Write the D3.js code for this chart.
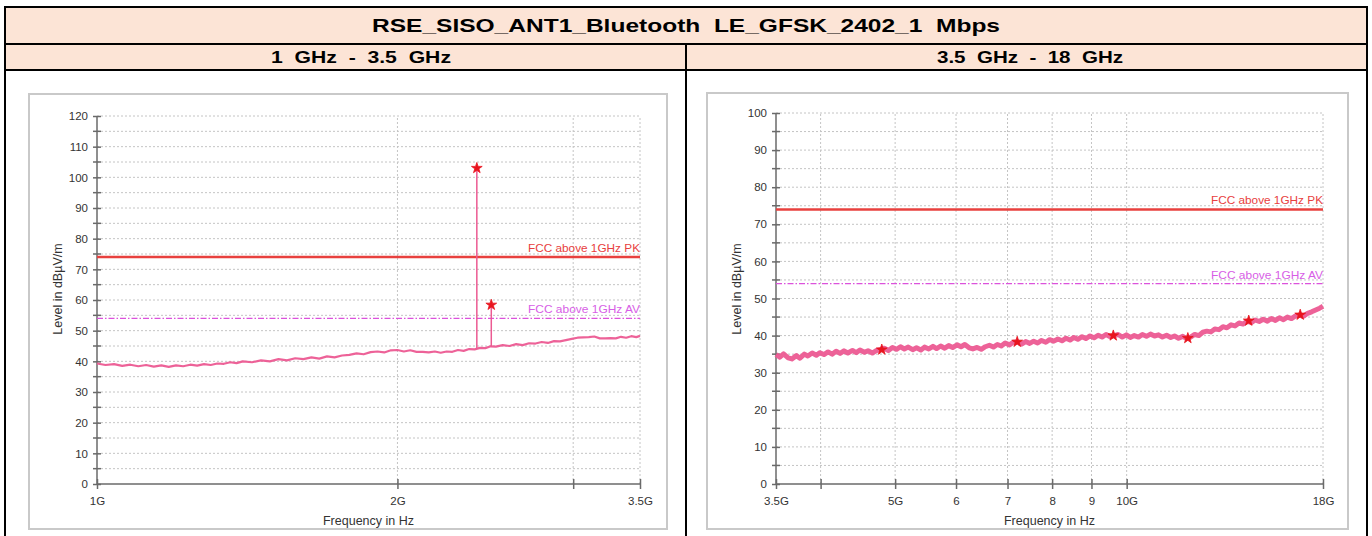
<!DOCTYPE html>
<html><head><meta charset="utf-8">
<script src="https://cdn.jsdelivr.net/npm/d3@7"></script>
<style>
html,body{margin:0;padding:0;background:#fff;}
svg{display:block;font-family:"Liberation Sans",Arial,sans-serif;}
</style></head>
<body>
<svg id="c" width="1372" height="536"></svg>
<script>
// ---------- DATA ----------
const title = "RSE_SISO_ANT1_Bluetooth  LE_GFSK_2402_1  Mbps";
const subTitles = ["1  GHz  -  3.5  GHz", "3.5  GHz  -  18  GHz"];
const yAxisTitle = "Level in dBµV/m";
const xAxisTitle = "Frequency in Hz";
const pkLabel = "FCC above 1GHz PK";
const avLabel = "FCC above 1GHz AV";
const pkLimit = 74;
const avLimit = 54;

// left chart (1 GHz - 3.5 GHz)
const leftYTicks = [0,10,20,30,40,50,60,70,80,90,100,110,120];
const leftXTicks = [1, 2, 3, 3.5];
const leftXLabels = ["1G", "2G", "", "3.5G"];
const leftFreq = [1.00,1.02,1.04,1.06,1.08,1.10,1.12,1.14,1.16,1.18,1.20,1.22,1.24,1.26,1.28,1.30,1.32,1.34,1.36,1.38,1.40,1.43,1.46,1.49,1.52,1.55,1.58,1.61,1.64,1.67,1.70,1.73,1.76,1.79,1.82,1.85,1.88,1.91,1.94,1.97,2.00,2.03,2.06,2.09,2.12,2.15,2.18,2.21,2.24,2.27,2.30,2.33,2.36,2.39,2.42,2.45,2.48,2.51,2.55,2.59,2.63,2.67,2.71,2.75,2.79,2.83,2.87,2.91,2.95,2.99,3.03,3.07,3.11,3.15,3.19,3.23,3.27,3.31,3.35,3.39,3.43,3.47,3.50];
const leftLevel = [39.3,38.8,39.1,38.5,38.9,38.4,38.8,38.3,38.7,38.2,38.7,38.4,38.9,38.6,39.1,38.8,39.3,39.2,39.7,39.4,40.0,39.7,40.3,40.0,40.7,40.3,41.0,40.7,41.3,40.9,41.6,41.3,41.9,42.1,42.6,42.3,43.0,43.2,42.9,43.6,43.7,43.2,43.6,43.1,43.1,42.9,43.2,42.8,43.2,43.1,43.7,43.4,44.0,43.9,44.4,44.3,44.9,44.8,45.3,45.0,45.6,45.3,45.9,45.8,46.3,46.0,46.6,46.5,46.9,47.3,47.7,47.8,47.9,48.1,47.5,47.5,47.6,47.5,48.0,47.7,48.2,47.9,48.3];
const leftPeakFreq = [2.402, 2.4835];
const leftPeakLevel = [103.0, 58.4];
const leftPeakBase = [44.1, 44.8];

// right chart (3.5 GHz - 18 GHz)
const rightYTicks = [0,10,20,30,40,50,60,70,80,90,100];
const rightXTicks = [3.5, 4, 5, 6, 7, 8, 9, 10, 18];
const rightXLabels = ["3.5G", "", "5G", "6", "7", "8", "9", "10G", "18G"];
const rightFreq = [
 3.50,3.54,3.58,3.63,3.67,3.72,3.76,3.81,3.85,3.90,
 3.95,3.99,4.04,4.09,4.14,4.19,4.24,4.29,4.34,4.40,
 4.45,4.50,4.56,4.61,4.67,4.73,4.78,4.84,4.90,4.96,
 5.02,5.08,5.14,5.20,5.27,5.33,5.40,5.46,5.53,5.60,
 5.66,5.73,5.80,5.87,5.94,6.02,6.09,6.16,6.24,6.31,
 6.39,6.47,6.55,6.63,6.71,6.79,6.87,6.95,7.04,7.12,
 7.21,7.30,7.39,7.48,7.57,7.66,7.75,7.85,7.94,8.04,
 8.14,8.24,8.34,8.44,8.54,8.64,8.75,8.85,8.96,9.07,
 9.18,9.29,9.40,9.52,9.63,9.75,9.87,9.99,10.11,10.23,
 10.36,10.48,10.61,10.74,10.87,11.00,11.13,11.27,11.41,11.54,
 11.68,11.83,11.97,12.11,12.26,12.41,12.56,12.71,12.87,13.02,
 13.18,13.34,13.50,13.67,13.83,14.00,14.17,14.34,14.52,14.69,
 14.87,15.05,15.24,15.42,15.61,15.80,15.99,16.18,16.38,16.58,
 16.78,16.98,17.19,17.40,17.61,17.82,18.00];
const rightLevel = [
 34.9,34.2,35.1,34.0,33.7,34.6,33.9,35.0,34.5,35.3,
 34.7,35.4,34.9,35.6,35.0,35.8,35.2,35.9,35.3,36.0,
 35.4,36.1,35.5,35.9,35.3,36.0,36.2,36.6,36.0,36.8,
 36.3,37.0,36.4,36.9,36.2,36.7,36.1,36.9,36.4,37.1,
 36.5,37.2,36.6,37.3,36.8,37.5,37.0,37.6,36.7,36.4,
 36.8,36.3,37.0,37.4,36.9,37.6,37.2,38.0,37.5,38.2,
 38.3,37.7,38.4,37.9,38.5,38.0,38.7,38.2,38.9,38.5,
 39.1,38.6,39.3,38.8,39.5,39.0,39.7,39.2,39.9,39.4,
 40.1,39.6,40.3,39.7,40.0,40.3,39.6,40.2,39.5,40.0,
 39.6,40.3,39.8,40.4,39.9,40.2,39.6,40.1,39.5,39.9,
 39.3,39.8,39.2,39.6,40.3,40.0,40.9,41.2,41.0,41.8,
 41.6,42.4,42.1,42.9,42.6,43.4,43.1,43.9,43.5,44.2,
 43.8,44.4,43.9,44.6,44.1,44.8,44.3,45.0,44.6,45.3,
 45.5,45.2,46.0,46.4,46.9,47.4,47.9];
const rightMarkFreq = [4.804, 7.206, 9.608, 12.01, 14.412, 16.814];
const rightMarkLevel = [36.2, 38.3, 40.0, 39.3, 44.0, 45.6];

// ---------- DRAW ----------
const svg = d3.select("#c");
const C = {
  header:"#fce4d6", border:"#000", frame:"#c9c9c9", axis:"#6a6a6a", grid:"#c4c4c4",
  text:"#333", trace:"#ec5a92", pk:"#e8403e", av:"#dc52dc", avText:"#d75ee6", mark:"#e8141e"
};

// table
svg.append("rect").attr("x",5).attr("y",7).attr("width",1362).attr("height",37).attr("fill",C.header);
svg.append("rect").attr("x",5).attr("y",44).attr("width",1362).attr("height",26).attr("fill",C.header);
const tb = svg.append("g").attr("stroke",C.border).attr("stroke-width",2).attr("fill","none");
tb.append("rect").attr("x",5).attr("y",7).attr("width",1362).attr("height",540);
tb.append("line").attr("x1",5).attr("x2",1367).attr("y1",44).attr("y2",44);
tb.append("line").attr("x1",5).attr("x2",1367).attr("y1",70).attr("y2",70);
tb.append("line").attr("x1",686).attr("x2",686).attr("y1",44).attr("y2",540);

svg.append("text").attr("x",686).attr("y",32).attr("text-anchor","middle")
  .attr("font-weight","bold").attr("font-size",19).style("white-space","pre")
  .attr("textLength",628).attr("lengthAdjust","spacingAndGlyphs").text(title);
[[361, subTitles[0], 180],[1030, subTitles[1], 186]].forEach(([x,t,w])=>{
  svg.append("text").attr("x",x).attr("y",63).attr("text-anchor","middle")
    .attr("font-weight","bold").attr("font-size",17).style("white-space","pre")
    .attr("textLength",w).attr("lengthAdjust","spacingAndGlyphs").text(t);
});

function chart(cfg){
  const g = svg.append("g");
  g.append("rect").attr("x",cfg.frame[0]).attr("y",cfg.frame[1]).attr("width",cfg.frame[2]).attr("height",cfg.frame[3])
    .attr("fill","#fff").attr("stroke",C.frame).attr("stroke-width",2);
  const x = d3.scaleLog().domain(cfg.xDomain).range([cfg.x0, cfg.x1]);
  const y = d3.scaleLinear().domain(cfg.yDomain).range([cfg.y0, cfg.y1]);
  const ymax = cfg.yDomain[1];
  const hg = d3.range(5, ymax+0.1, 5);
  g.append("g").selectAll("line").data(hg).join("line")
    .attr("x1",cfg.x0).attr("x2",cfg.x1).attr("y1",d=>y(d)).attr("y2",d=>y(d))
    .attr("stroke",C.grid).attr("stroke-width",1).attr("stroke-dasharray","2,2");
  g.append("g").selectAll("line").data(cfg.xTicks.slice(1)).join("line")
    .attr("x1",d=>x(d)).attr("x2",d=>x(d)).attr("y1",cfg.y0).attr("y2",cfg.y1)
    .attr("stroke",C.grid).attr("stroke-width",1).attr("stroke-dasharray","2,2");
  const ya = d3.axisLeft(y).tickValues(cfg.yTicks).tickSize(4).tickPadding(5).tickFormat(d3.format("d"));
  const yg = g.append("g").attr("transform",`translate(${cfg.x0},0)`).call(ya);
  yg.select(".domain").attr("stroke",C.axis).attr("stroke-width",1.5).attr("d",`M0,${cfg.y0}V${cfg.y1}`);
  yg.selectAll(".tick line").attr("stroke",C.axis).attr("stroke-width",1.5).attr("x1",-4).attr("x2",4);
  yg.selectAll(".tick text").attr("fill",C.text).attr("font-size",11.5).attr("font-family","Liberation Sans, Arial, sans-serif");
  g.append("g").selectAll("line").data(cfg.yTicks.slice(0,-1).map(d=>d+5)).join("line")
    .attr("x1",cfg.x0-4).attr("x2",cfg.x0+4).attr("y1",d=>y(d)).attr("y2",d=>y(d))
    .attr("stroke",C.axis).attr("stroke-width",1.5);
  const xa = d3.axisBottom(x).tickValues(cfg.xTicks).tickSize(4).tickPadding(9)
    .tickFormat((d,i)=>cfg.xLabels[i]);
  const xg = g.append("g").attr("transform",`translate(0,${cfg.y0})`).call(xa);
  xg.select(".domain").attr("stroke",C.axis).attr("stroke-width",1.5).attr("d",`M${cfg.x0},0H${cfg.x1}`);
  xg.selectAll(".tick line").attr("stroke",C.axis).attr("stroke-width",1.5).attr("y1",-5).attr("y2",5);
  xg.selectAll(".tick text").attr("fill",C.text).attr("font-size",11.5).attr("font-family","Liberation Sans, Arial, sans-serif");
  g.append("text").attr("x",(cfg.x0+cfg.x1)/2).attr("y",cfg.y0+41).attr("text-anchor","middle")
    .attr("font-size",12.5).attr("fill",C.text).text(xAxisTitle);
  g.append("text").attr("transform",`translate(${cfg.yTitleX},${cfg.yTitleY}) rotate(-90)`).attr("text-anchor","middle")
    .attr("font-size",12.5).attr("fill",C.text).text(yAxisTitle);
  g.append("line").attr("x1",cfg.x0).attr("x2",cfg.x1).attr("y1",y(avLimit)).attr("y2",y(avLimit))
    .attr("stroke",C.av).attr("stroke-width",1.2).attr("stroke-dasharray","6,2,1.5,2");
  g.append("line").attr("x1",cfg.x0).attr("x2",cfg.x1).attr("y1",y(pkLimit)).attr("y2",y(pkLimit))
    .attr("stroke",C.pk).attr("stroke-width",2.5);
  g.append("text").attr("x",cfg.x1).attr("y",y(pkLimit)-5).attr("text-anchor","end")
    .attr("font-size",11).attr("fill",C.pk).attr("textLength",112).attr("lengthAdjust","spacingAndGlyphs").text(pkLabel);
  g.append("text").attr("x",cfg.x1).attr("y",y(avLimit)-5).attr("text-anchor","end")
    .attr("font-size",11).attr("fill",C.avText).attr("textLength",112).attr("lengthAdjust","spacingAndGlyphs").text(avLabel);
  const pts = cfg.freq.map((f,i)=>[f,cfg.level[i]]);
  g.append("path").datum(pts).attr("fill","none").attr("stroke",C.trace)
    .attr("stroke-width",cfg.traceW).attr("stroke-linejoin","round").attr("opacity",0.95)
    .attr("d",d3.line().x(d=>x(d[0])).y(d=>y(d[1])));
  if(cfg.peakFreq){
    g.append("g").selectAll("line").data(cfg.peakFreq).join("line")
      .attr("x1",d=>x(d)).attr("x2",d=>x(d))
      .attr("y1",(d,i)=>y(cfg.peakBase[i])).attr("y2",(d,i)=>y(cfg.peakLevel[i]))
      .attr("stroke",C.trace).attr("stroke-width",1.5);
  }
  const mf = cfg.peakFreq || cfg.markFreq, ml = cfg.peakLevel || cfg.markLevel;
  g.append("g").selectAll("path").data(mf).join("path")
    .attr("transform",(d,i)=>`translate(${x(d)},${y(ml[i])})`)
    .attr("d",d3.symbol().type(d3.symbolStar).size(36))
    .attr("fill",C.mark).attr("stroke",C.mark).attr("stroke-width",0.8);
}

chart({frame:[29,94,638,435], xDomain:[1,3.5], yDomain:[0,120], x0:97, x1:640, y0:484, y1:116,
  yTicks:leftYTicks, xTicks:leftXTicks, xLabels:leftXLabels, yTitleX:62, yTitleY:289,
  freq:leftFreq, level:leftLevel, traceW:2.2,
  peakFreq:leftPeakFreq, peakLevel:leftPeakLevel, peakBase:leftPeakBase});
chart({frame:[707,93,641,436], xDomain:[3.5,18], yDomain:[0,100], x0:776, x1:1323, y0:484, y1:113,
  yTicks:rightYTicks, xTicks:rightXTicks, xLabels:rightXLabels, yTitleX:741, yTitleY:289,
  freq:rightFreq, level:rightLevel, traceW:5,
  markFreq:rightMarkFreq, markLevel:rightMarkLevel});
</script>
</body></html>
